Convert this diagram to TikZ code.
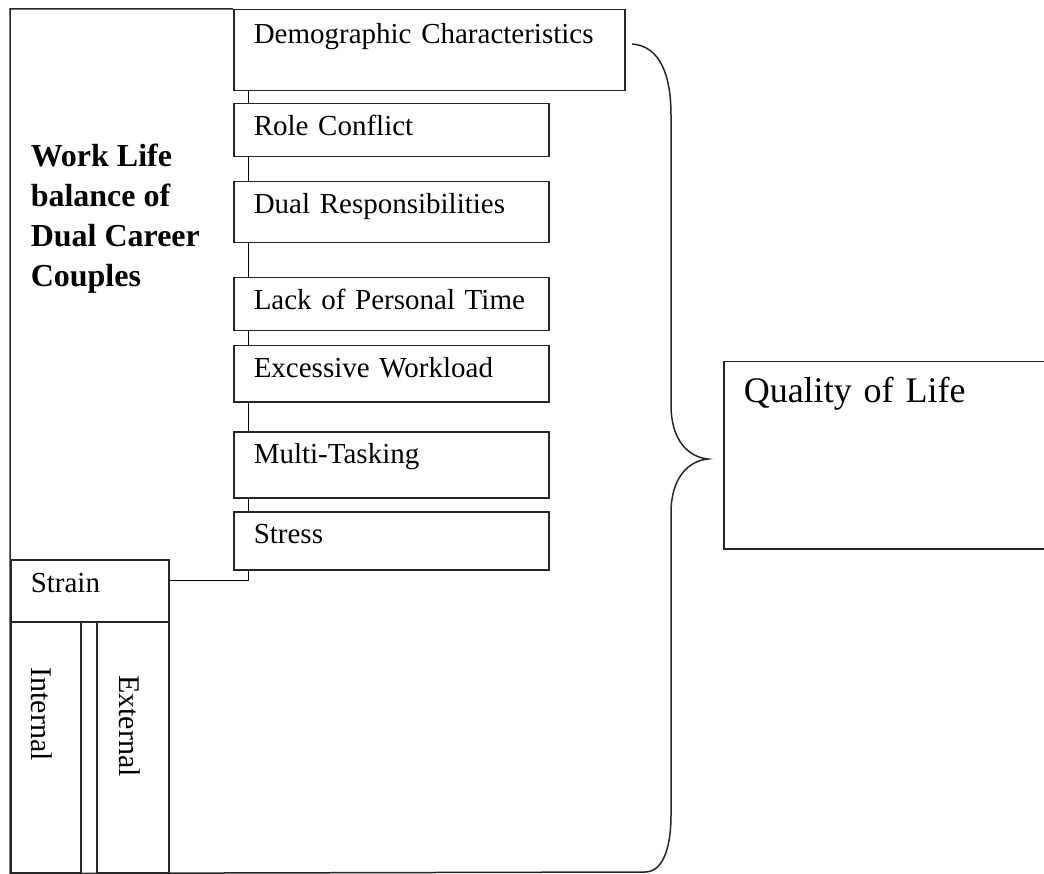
\documentclass[tikz,border=0pt]{standalone}
\usepackage{fontspec}
\setmainfont{Liberation Serif}
\usetikzlibrary{backgrounds}
\begin{document}
\begin{tikzpicture}[x=1pt,y=-1pt,line width=1.5pt,draw=black!85]
	\tikzstyle{factor box} = [draw, fill=white, anchor=north west, inner xsep=20pt, inner ysep=0pt, text width=275pt, align=left, text height=32pt, font=\fontsize{29}{35}\selectfont]
	\tikzstyle{plain box} = [draw, anchor=north west, inner sep=0pt]
	\tikzstyle{side text} = [rotate=-90, inner sep=0pt, font=\fontsize{30}{36}\selectfont]
	\useasboundingbox (0,0) rectangle (1044,874);
	% the factors
	\node[factor box, text width=351pt, text height=34pt, text depth=47pt] (demo) at (233,9) {Demographic Characteristics};
	\node[factor box, text depth=21pt] (role) at (233,103) {Role Conflict};
	\node[factor box, text depth=29pt] (dual) at (233,181) {Dual Responsibilities};
	\node[factor box, text depth=21pt] (lack) at (233,277) {Lack of Personal Time};
	\node[factor box, text depth=24pt] (workload) at (233,345) {Excessive Workload};
	\node[factor box, text depth=34pt] (multi) at (233,431) {Multi-Tasking};
	\node[factor box, text depth=26pt] (stress) at (233,511) {Stress};
	% strain
	\node[factor box, text width=118pt, text height=33pt, text depth=29pt] (strain) at (10,559) {Strain};
	\node[plain box, minimum width=70pt, minimum height=251pt] (internal) at (10,621) {};
	\node[plain box, minimum width=72pt, minimum height=251pt] (external) at (96,621) {};
	\node[side text] (internal text) at (42,714) {Internal};
	\node[side text] (external text) at (130,726) {External};
	% title
	\node[anchor=base west, inner sep=0pt, align=left, font=\bfseries\fontsize{32}{40}\selectfont] (title) at (30,287) {Work Life\\balance of\\Dual Career\\Couples};
	% outcome
	\node[factor box, text width=290pt, text height=41pt, text depth=146pt, font=\fontsize{36}{40}\selectfont] (quality) at (723,361) {Quality of Life};
	\coordinate (spine) at (248,580);
	\coordinate (brace top) at (632,44);
	\coordinate (brace tip) at (708,459);
	\coordinate (brace end) at (645,872);
	\begin{scope}[on background layer]
		\draw (demo.south west -| spine) -- (spine) -- (spine -| strain.east);
	\end{scope}
	\draw (demo.north west) -| (internal.south west) -- (brace end);
	\draw (brace top) .. controls (660,46) and (671,75) .. (671,115) -- (671,405) .. controls (671,440) and (688,457) .. (brace tip) .. controls (688,461) and (671,478) .. (671,513) -- (671,815) .. controls (671,850) and (662,872) .. (brace end);
\end{tikzpicture}
\end{document}
